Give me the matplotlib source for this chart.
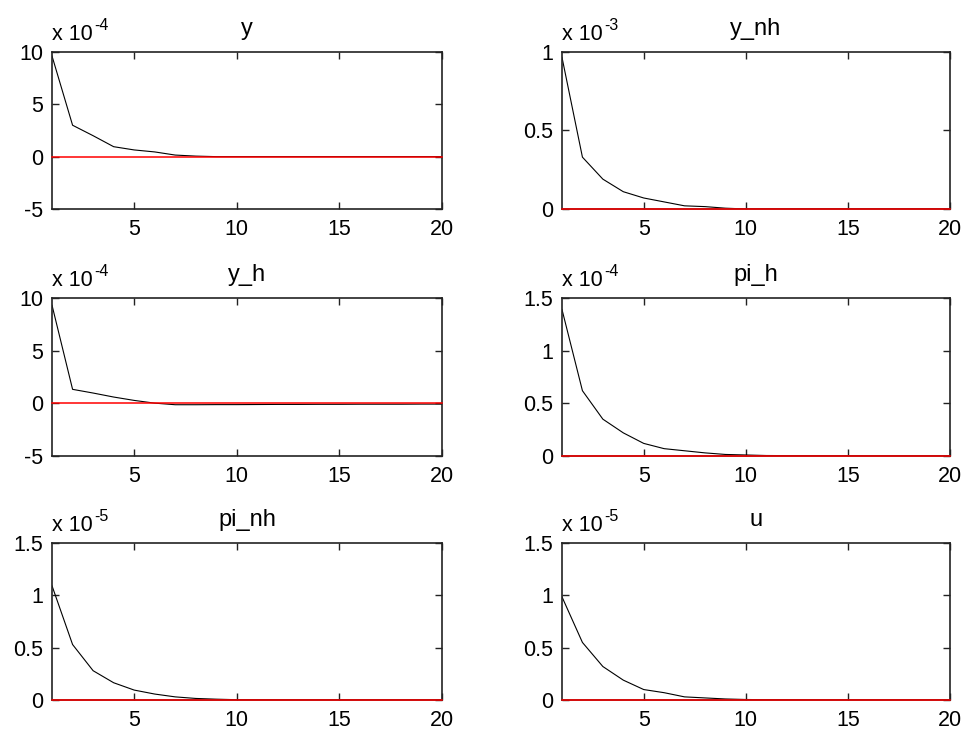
import numpy as np
import matplotlib
matplotlib.use("Agg")
import matplotlib.pyplot as plt

plt.rcParams["font.family"] = ["Liberation Sans", "DejaVu Sans"]

# horizon 1..20
periods = np.arange(1, 21)

# responses in display units (value x 10^exp)
y_irf = [9.6, 3.0, 2.0, 0.95, 0.64, 0.45, 0.15, 0.05, 0, 0, 0, 0, 0, 0, 0, 0, 0, 0, 0, 0]
y_nh_irf = [0.965, 0.33, 0.19, 0.11, 0.07, 0.045, 0.02, 0.015, 0.005, 0, 0, 0, 0, 0, 0, 0, 0, 0, 0, 0]
y_h_irf = [9.3, 1.33, 0.98, 0.6, 0.28, 0.02, -0.13, -0.13, -0.12, -0.12, -0.11, -0.1, -0.1,
           -0.09, -0.09, -0.08, -0.08, -0.08, -0.07, -0.07]
pi_h_irf = [1.39, 0.62, 0.35, 0.22, 0.12, 0.07, 0.05, 0.03, 0.015, 0.01, 0.005, 0.004, 0.003,
            0.002, 0.002, 0.001, 0.001, 0.001, 0.001, 0.001]
pi_nh_irf = [1.09, 0.53, 0.28, 0.165, 0.095, 0.057, 0.03, 0.015, 0.008, 0.003, 0.002, 0.001,
             0, 0, 0, 0, 0, 0, 0, 0]
u_irf = [0.985, 0.55, 0.32, 0.19, 0.1, 0.07, 0.03, 0.02, 0.01, 0.005, 0.003, 0.002, 0.001,
         0, 0, 0, 0, 0, 0, 0]

names = ["y", "y_nh", "y_h", "pi_h", "pi_nh", "u"]
series = [y_irf, y_nh_irf, y_h_irf, pi_h_irf, pi_nh_irf, u_irf]
exponents = ["-4", "-3", "-4", "-4", "-5", "-5"]
ylims = [(-5, 10), (0, 1), (-5, 10), (0, 1.5), (0, 1.5), (0, 1.5)]
yticks = [[-5, 0, 5, 10], [0, 0.5, 1], [-5, 0, 5, 10], [0, 0.5, 1, 1.5], [0, 0.5, 1, 1.5],
          [0, 0.5, 1, 1.5]]

fig = plt.figure(figsize=(9.64, 7.34), dpi=100)

lefts = [0.054, 0.583]
widths = [0.4046, 0.4025]
bottoms = [0.7153, 0.3787, 0.0463]
heights = [0.2139, 0.2153, 0.2139]

fs = 15.5
for i, name in enumerate(names):
    r, c = divmod(i, 2)
    ax = fig.add_axes([lefts[c], bottoms[r], widths[c], heights[r]])
    ax.plot(periods, series[i], color="black", lw=0.8)
    ax.plot([periods[0], periods[-1]], [0, 0], color="red", lw=1.1, zorder=3, clip_on=False)
    ax.set_xlim(1, 20)
    ax.set_ylim(*ylims[i])
    ax.set_xticks([5, 10, 15, 20])
    ax.set_yticks(yticks[i])
    ax.set_yticklabels([f"{t:g}" for t in yticks[i]])
    ax.tick_params(direction="in", length=5, width=1, top=True, right=True,
                   labelsize=fs, pad=6.5, colors="#222222", labelcolor="black")
    ax.tick_params(axis="x", pad=7)
    for s in ax.spines.values():
        s.set_linewidth(1.2)
        s.set_color("#222222")
    ax.set_title(name, fontsize=17, pad=12)
    # MATLAB style exponent label
    base = ax.annotate("x 10", xy=(0, 1), xycoords="axes fraction", xytext=(0, 8.6),
                       textcoords="offset points", fontsize=fs, ha="left", va="baseline")
    ax.annotate(exponents[i], xy=(1, 0), xycoords=base, xytext=(1, 11),
                textcoords="offset points", fontsize=11.5, ha="left", va="baseline")

fig.savefig("out.png", dpi=100)
